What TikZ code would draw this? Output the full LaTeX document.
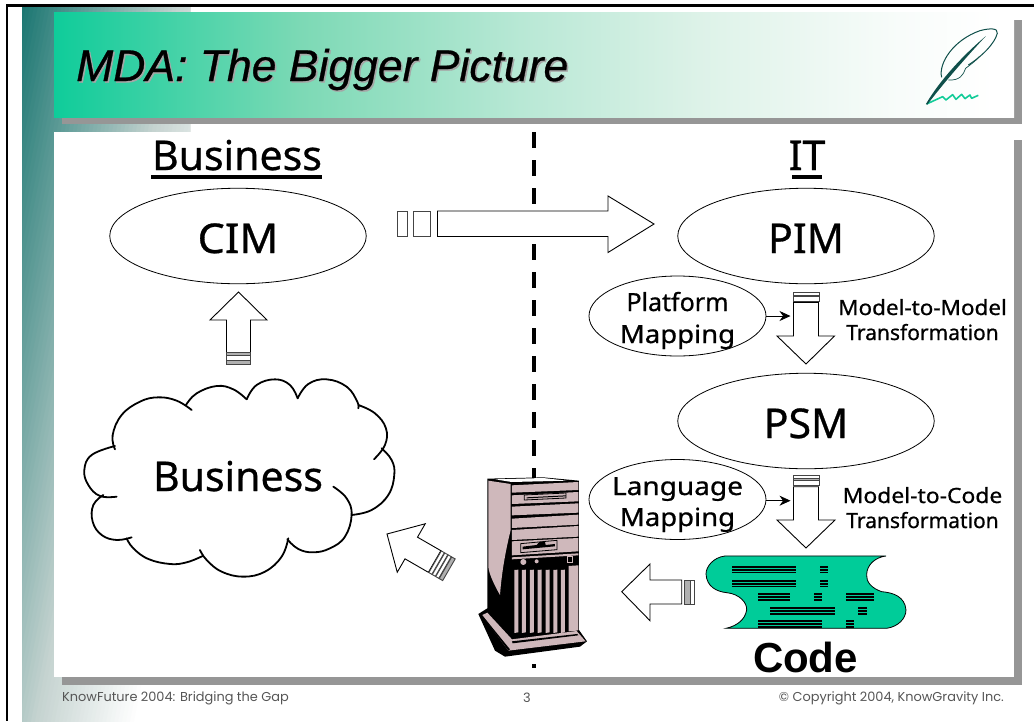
\documentclass[tikz,border=0pt]{standalone}
\usepackage{fontspec}
\setmainfont{Noto Sans}
\newfontfamily\labelf{Noto Sans}[FakeBold=0.7]
\newfontfamily\arialf{Liberation Sans}
\newfontfamily\titlef{Liberation Sans}[ItalicFeatures={FakeBold=0.6}]
\newfontfamily\footf{Poppins}
\usetikzlibrary{shapes.geometric,arrows.meta}
\definecolor{bandteal}{HTML}{187570}
\definecolor{bandpale}{HTML}{C5D3D0}
\definecolor{shadowgray}{HTML}{969696}
\definecolor{codegreen}{HTML}{00CC99}
\definecolor{towerpink}{HTML}{CFB8BB}
\definecolor{quilldark}{HTML}{0F4F4A}
\definecolor{quillgreen}{HTML}{12CC98}
\definecolor{footgray}{HTML}{555555}
\definecolor{segedge}{HTML}{444444}
\definecolor{segfill}{HTML}{B0B0B0}
\definecolor{bana}{HTML}{0FCC9A}
\definecolor{banb}{HTML}{7CD9B5}
\definecolor{banc}{HTML}{B8E8D5}
\definecolor{band}{HTML}{DDF2E8}
\definecolor{bane}{HTML}{F8FCFA}
\pgfdeclarehorizontalshading{bannershade}{100bp}{
 color(0bp)=(bana);
 color(25bp)=(bana);
 color(37.8bp)=(banb);
 color(49.3bp)=(banc);
 color(58.6bp)=(band);
 color(69bp)=(bane);
 color(74bp)=(white);
 color(100bp)=(white)}
\tikzset{
 shadowbar/.style={fill=shadowgray,draw=none},
 bigell/.style={draw=black,line width=0.8pt,ellipse,fill=white,inner sep=0pt,minimum width=256.5pt,minimum height=95.5pt,font=\labelf\fontsize{41}{41}\selectfont,text height=34pt,text depth=0pt},
 smallell/.style={draw=black,line width=0.8pt,ellipse,fill=white,inner sep=0pt,minimum width=177pt,minimum height=80pt},
 heading/.style={anchor=base,inner sep=0pt,font=\labelf\fontsize{41}{41}\selectfont},
 midlabel/.style={anchor=base,inner sep=0pt,font=\labelf\fontsize{25}{25}\selectfont},
 tflabel/.style={anchor=base,inner sep=0pt,font=\labelf\fontsize{21}{21}\selectfont},
 footlabel/.style={anchor=base,inner sep=0pt,text=footgray,font=\footf\fontsize{12.9}{12.9}\selectfont},
 blockarrow/.style={draw=black,line width=0.9pt,fill=white,line join=miter},
 segment/.style={draw=segedge,line width=0.9pt,fill=white},
 segmentgray/.style={draw=segedge,line width=0.9pt,fill=segfill},
 cloudline/.style={line width=1.8pt,line cap=round,smooth,tension=0.7},
 headrule/.style={line width=4pt,draw=black},
 feeder/.style={draw=black,line width=0.8pt,-{Stealth[length=11pt,width=10pt]}},
}
\newcommand{\codebar}[3]{%
 \fill[black] (#1,#3) rectangle (#2,#3+6);
 \fill[black] (#1,#3+8) rectangle (#2,#3+15);
 \fill[black] (#1,#3+17.5) rectangle (#2,#3+22);}
\begin{document}
\begin{tikzpicture}[x=1pt,y=-1pt]
\useasboundingbox (0,0) rectangle (1034,721);
\fill[white] (0,0) rectangle (1034,721);
% corner gradient
\begin{scope}
\clip (22,6) rectangle (190,721);
\foreach \i in {70,69,...,1}{
 \pgfmathsetmacro{\tt}{\i/50}
 \pgfmathsetmacro{\pa}{min(100,\tt/0.8*100)}
 \pgfmathsetmacro{\pb}{max(0,min(100,(\tt-0.8)/0.5*100))}
 \colorlet{rampc}{bandpale!\pa!bandteal}
 \colorlet{rampd}{white!\pb!rampc}
 \fill[rampd] (22,6) -- ({22+198*\tt},6) -- (22,{6+1000*\tt}) -- cycle;
}
\end{scope}
% frame
\fill[black] (6,4.3) rectangle (1034,6.8);
\fill[black] (6,4.3) rectangle (8.2,721);
% banner
\fill[shadowgray] (62,20) rectangle (1022,124);
\shade[shading=bannershade,draw=none] (54,12) rectangle (1014,117);
% content
\fill[shadowgray] (62,140) rectangle (1022,685);
\fill[white] (54,132) rectangle (1014,677);
% title
\node[anchor=base west,inner sep=0pt,text=black!35,font=\titlef\itshape\fontsize{44.5}{44.5}\selectfont] (titleshadow) at (77.5,82.5) {MDA: The Bigger Picture};
\node[anchor=base west,inner sep=0pt,font=\titlef\itshape\fontsize{44.5}{44.5}\selectfont] (title) at (76,81) {MDA: The Bigger Picture};
% quill
\begin{scope}[shift={(520,0)},x=0.3333pt,y=-0.3333pt]
 \draw[quillgreen,line width=1.6pt,line join=round] (1220,312) -- (1268,290) -- (1278,300) -- (1298,284) -- (1308,298) -- (1325,283) -- (1335,296) -- (1350,285) -- (1355,295) -- (1375,286);
 \fill[quilldark] (1218,312) .. controls (1260,240) and (1330,165) .. (1398,108) .. controls (1340,170) and (1270,250) .. (1222,314) -- cycle;
 \draw[quilldark,line width=1pt] (1265,232) .. controls (1255,190) and (1300,120) .. (1380,92) .. controls (1410,84) and (1435,84) .. (1432,100) .. controls (1425,130) and (1385,170) .. (1345,195);
 \draw[quilldark,line width=0.7pt] (1285,240) .. controls (1320,242) and (1330,225) .. (1337,205) .. controls (1350,195) and (1365,185) .. (1378,170);
\end{scope}
% divider
\draw[line width=4pt,black,dash pattern=on 15.5pt off 12.5pt] (534,132) coordinate (divtop) -- (534,668) coordinate (divbot);
% headings
\node[heading] (hbus) at (237,170) {Business};
\draw[headrule] (151,177) -- (322,177);
\node[heading] (hit) at (807,170) {IT};
\draw[headrule] (792,177) -- (822,177);
% main ellipses
\node[bigell] (cim) at (238,236) {\scalebox{1.05}[1]{CIM}};
\node[bigell] (pim) at (806,236) {PIM};
\node[bigell] (psm) at (806,421) {PSM};
\node[smallell] (plat) at (677.5,316) {};
\node[midlabel] (plat1) at (677.5,311) {Platform};
\node[midlabel] (plat2) at (677.5,343) {\scalebox{1.1}[1]{Mapping}};
\node[smallell] (lang) at (677.5,499.5) {};
\node[midlabel] (lang1) at (677.5,495) {\scalebox{1.12}[1]{Language}};
\node[midlabel] (lang2) at (677.5,526) {\scalebox{1.1}[1]{Mapping}};
\node[tflabel] (mm1) at (922.5,315) {\scalebox{1.07}[1]{Model-to-Model}};
\node[tflabel] (mm2) at (922.5,340) {Transformation};
\node[tflabel] (mc1) at (922.5,503) {\scalebox{1.09}[1]{Model-to-Code}};
\node[tflabel] (mc2) at (922.5,528) {Transformation};
% big right arrow
\draw[segment] (397.5,211) rectangle (407,236.5);
\draw[segment] (413.5,211) rectangle (430.5,236.5);
\draw[blockarrow] (437.5,211) -- (608,211) -- (608,196) -- (654,224) -- (608,252.5) -- (608,236.5) -- (437.5,236.5) -- cycle;
% up arrow
\draw[blockarrow] (238.5,292) -- (267,320) -- (250.5,320) -- (250.5,352.5) -- (226.5,352.5) -- (226.5,320) -- (210,320) -- cycle;
\draw[segmentgray] (226.5,352.5) rectangle (250.5,355);
\draw[segment] (226.5,355.5) rectangle (250.5,360);
\draw[segmentgray] (226.5,360.5) rectangle (250.5,364.5);
% down arrow 1
\draw[segment] (793,292) rectangle (819,295);
\draw[segmentgray] (793,295) rectangle (819,296.7);
\draw[segment] (793,296.7) rectangle (819,301.7);
\draw[blockarrow] (793.5,302.3) -- (818.5,302.3) -- (818.5,336) -- (834.5,336) -- (806,364) -- (777,336) -- (793.5,336) -- cycle;
% down arrow 2
\draw[segment] (793,475.7) rectangle (819,478.6);
\draw[segmentgray] (793,478.6) rectangle (819,480.3);
\draw[segment] (793,480.3) rectangle (819,485.3);
\draw[blockarrow] (793.5,486.7) -- (818.5,486.7) -- (818.5,520) -- (835,520) -- (806,548) -- (777,520) -- (793.5,520) -- cycle;
% feeders
\coordinate (d1in) at (790.5,316);
\coordinate (d2in) at (790.5,500.7);
\draw[feeder] (plat.east) -- (d1in);
\draw[feeder] (lang.east |- d2in) -- (d2in);
% cloud
\begin{scope}[shift={(0,360)},x=0.3333pt,y=-0.3333pt]
 \draw[cloudline] plot coordinates {(345,268) (338,225) (365,165) (420,125) (475,112) (530,122) (575,150)};
 \draw[cloudline] plot coordinates {(558,135) (590,100) (650,78) (700,88) (740,118)};
 \draw[cloudline] plot coordinates {(740,118) (770,75) (825,58) (870,75) (893,115)};
 \draw[cloudline] plot coordinates {(893,115) (925,72) (980,58) (1040,80) (1072,125) (1075,145)};
 \draw[cloudline] plot coordinates {(1075,135) (1125,160) (1158,205) (1155,255) (1122,298)};
 \draw[cloudline] plot coordinates {(1145,265) (1175,300) (1183,345) (1165,405) (1115,450) (1055,465)};
 \draw[cloudline] plot coordinates {(1000,380) (1040,415) (1055,465) (1035,530) (990,565) (940,577) (895,567) (862,538)};
 \draw[cloudline] plot coordinates {(865,535) (845,590) (795,635) (730,650) (665,635) (620,600) (600,570)};
 \draw[cloudline] plot coordinates {(608,588) (560,607) (510,612) (445,597) (400,565) (380,535)};
 \draw[cloudline] plot coordinates {(395,532) (350,540) (305,525) (278,485) (280,435) (310,405)};
 \draw[cloudline] plot coordinates {(350,410) (300,408) (265,375) (253,330) (275,285) (345,258)};
\end{scope}
\node[heading] (cloudtxt) at (238,491) {Business};
% diagonal arrow
\begin{scope}[shift={(387,534)},rotate=-30]
 \draw[blockarrow] (0,0) -- (28,-28) -- (28,-12.5) -- (55,-12.5) -- (55,12.5) -- (28,12.5) -- (28,28) -- cycle;
 \foreach \s in {55.5,59.5,63.5}{\draw[segment] (\s,-12.5) rectangle (\s+3.5,12.5);}
 \draw[segmentgray] (67.5,-12.5) rectangle (71.5,12.5);
\end{scope}
% left arrow
\draw[blockarrow] (621.7,591.7) -- (650,564) -- (650,580) -- (681.7,580) -- (681.7,604) -- (650,604) -- (650,620.7) -- cycle;
\draw[segmentgray] (684,580) rectangle (690,604);
\draw[segment] (690.7,580) rectangle (694,604);
% tower
\begin{scope}[shift={(380,440)},x=0.3333pt,y=-0.3333pt]
 \fill[black] (295,522) -- (322,505) -- (322,116) -- (490,112) -- (597,122) -- (597,570) -- (621,604) -- (600,620) -- (375,650) -- (345,632) -- cycle;
 \fill[white] (345,118) -- (490,114) -- (560,122) -- (395,126) -- cycle;
 \fill[towerpink] (325,122) -- (392,132) -- (392,270) .. controls (375,340) and (365,400) .. (360,465) .. controls (340,430) and (327,400) .. (325,380) -- cycle;
 \fill[towerpink] (396,136) -- (595,126) -- (595,150) -- (396,158) -- cycle;
 \fill[towerpink] (396,166) -- (595,156) -- (595,184) -- (396,192) -- cycle;
 \fill[towerpink] (396,200) -- (595,190) -- (595,218) -- (396,226) -- cycle;
 \fill[towerpink] (396,236) -- (595,224) -- (595,254) -- (396,264) -- cycle;
 \fill[towerpink] (396,270) -- (595,258) -- (595,290) -- (396,300) -- cycle;
 \fill[towerpink] (396,304) -- (595,294) -- (595,334) -- (396,346) -- cycle;
 \draw[black,line width=0.8pt,fill=towerpink] (433,165) -- (558,159) -- (558,174) -- (433,180) -- cycle;
 \fill[black] (440,172) -- (558,166) -- (558,169) -- (440,175) -- cycle;
 \draw[black,line width=0.8pt,fill=towerpink] (422,311) -- (531,301) -- (531,329) -- (422,338) -- cycle;
 \fill[black] (428,320) -- (470,315) -- (478,306) -- (495,306) -- (497,315) -- (525,312) -- (525,319) -- (428,328) -- cycle;
 \fill[towerpink] (396,352) -- (595,340) -- (595,346) -- (396,358) -- cycle;
 \fill[towerpink] (430,366) circle (9);
 \fill[towerpink] (470,364) circle (6);
 \draw[towerpink,line width=0.8pt] (562,348) rectangle (578,366);
 \foreach \a in {403,426,450,473,497,520,543}{
  \fill[towerpink] (\a,390) -- (\a+12,389) -- (\a+12,577) -- (\a,579) -- cycle;
 }
 \fill[towerpink] (566,378) -- (595,376) -- (595,570) -- (590,572) -- (566,574) -- cycle;
 \fill[towerpink] (396,598) -- (590,573) -- (617,604) -- (385,632) -- (307,525) -- (322,518) -- cycle;
 \fill[black] (396,604) -- (592,582) -- (595,586) -- (398,610) -- cycle;
 \fill[black] (310,530) -- (390,628) -- (385,632) -- (307,528) -- cycle;
\end{scope}
% code document
\begin{scope}[shift={(690,440)},x=0.3333pt,y=-0.3333pt]
 \draw[black,line width=0.8pt,fill=codegreen] (588,348) -- (105,348) .. controls (70,352) and (48,380) .. (48,402) .. controls (50,440) and (80,455) .. (110,458) .. controls (150,462) and (172,490) .. (170,510) .. controls (165,540) and (140,558) .. (108,565) -- (590,565) .. controls (625,560) and (648,535) .. (648,510) .. controls (645,470) and (610,458) .. (575,455) .. controls (545,445) and (528,425) .. (530,405) .. controls (530,375) and (555,352) .. (588,348) -- cycle;
 \codebar{125}{318}{378}\codebar{390}{413}{378}
 \codebar{125}{318}{420}\codebar{390}{413}{420}
 \codebar{203}{300}{460}\codebar{371}{395}{460}\codebar{467}{552}{460}
 \codebar{241}{435}{502}\codebar{505}{530}{502}
 \codebar{203}{396}{541}\codebar{467}{492}{541}
\end{scope}
\node[anchor=base,inner sep=0pt,font=\arialf\bfseries\fontsize{42}{42}\selectfont] (codetxt) at (805.5,672) {Code};
% footer
\node[footlabel,anchor=base west] (fl) at (62,701) {KnowFuture 2004: Bridging the Gap};
\node[footlabel] (fc) at (527,702) {3};
\node[footlabel,anchor=base east] (fr) at (1004,701.5) {© Copyright 2004, KnowGravity Inc.};
\end{tikzpicture}
\end{document}
